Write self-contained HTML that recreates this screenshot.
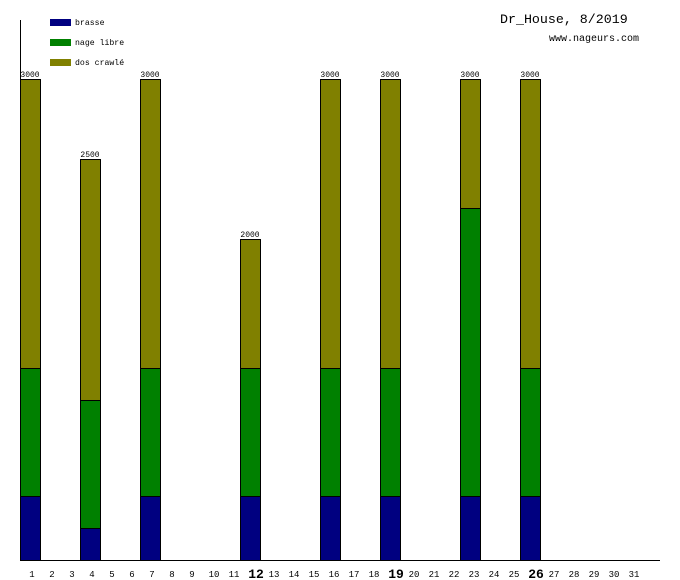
<!DOCTYPE html>
<html><head><style>body{margin:0;background:#fff}svg{display:block}</style></head><body>
<svg width="680" height="580" xmlns="http://www.w3.org/2000/svg" font-family="Liberation Mono, monospace">
<rect width="680" height="580" fill="#fff"/>
<line x1="20.5" y1="20" x2="20.5" y2="561" stroke="#000"/>
<line x1="20" y1="560.5" x2="660" y2="560.5" stroke="#000"/>
<rect x="50" y="19" width="21" height="7" fill="#000080"/>
<rect x="50" y="39" width="21" height="7" fill="#008000"/>
<rect x="50" y="59" width="21" height="7" fill="#808000"/>
<g font-size="8.2" fill="#000">
<text x="75" y="25">brasse</text>
<text x="75" y="45">nage libre</text>
<text x="75" y="65">dos crawlé</text>
</g>
<text x="500" y="23" font-size="13.3">Dr_House, 8/2019</text>
<text x="549" y="41" font-size="10">www.nageurs.com</text>
<g stroke="#000" stroke-width="1">
<rect x="20.5" y="496.5" width="20" height="64" fill="#000080"/><rect x="20.5" y="368.5" width="20" height="128" fill="#008000"/><rect x="20.5" y="79.5" width="20" height="289" fill="#808000"/>
<rect x="80.5" y="528.5" width="20" height="32" fill="#000080"/><rect x="80.5" y="400.5" width="20" height="128" fill="#008000"/><rect x="80.5" y="159.5" width="20" height="241" fill="#808000"/>
<rect x="140.5" y="496.5" width="20" height="64" fill="#000080"/><rect x="140.5" y="368.5" width="20" height="128" fill="#008000"/><rect x="140.5" y="79.5" width="20" height="289" fill="#808000"/>
<rect x="240.5" y="496.5" width="20" height="64" fill="#000080"/><rect x="240.5" y="368.5" width="20" height="128" fill="#008000"/><rect x="240.5" y="239.5" width="20" height="129" fill="#808000"/>
<rect x="320.5" y="496.5" width="20" height="64" fill="#000080"/><rect x="320.5" y="368.5" width="20" height="128" fill="#008000"/><rect x="320.5" y="79.5" width="20" height="289" fill="#808000"/>
<rect x="380.5" y="496.5" width="20" height="64" fill="#000080"/><rect x="380.5" y="368.5" width="20" height="128" fill="#008000"/><rect x="380.5" y="79.5" width="20" height="289" fill="#808000"/>
<rect x="460.5" y="496.5" width="20" height="64" fill="#000080"/><rect x="460.5" y="208.5" width="20" height="288" fill="#008000"/><rect x="460.5" y="79.5" width="20" height="129" fill="#808000"/>
<rect x="520.5" y="496.5" width="20" height="64" fill="#000080"/><rect x="520.5" y="368.5" width="20" height="128" fill="#008000"/><rect x="520.5" y="79.5" width="20" height="289" fill="#808000"/>
</g>
<g font-size="8" text-anchor="middle" fill="#000">
<text x="30" y="77">3000</text><text x="90" y="157">2500</text><text x="150" y="77">3000</text>
<text x="250" y="237">2000</text><text x="330" y="77">3000</text><text x="390" y="77">3000</text>
<text x="470" y="77">3000</text><text x="530" y="77">3000</text>
</g>
<g font-size="9" text-anchor="middle" fill="#000">
<text x="32" y="577">1</text><text x="52" y="577">2</text><text x="72" y="577">3</text><text x="92" y="577">4</text><text x="112" y="577">5</text><text x="132" y="577">6</text><text x="152" y="577">7</text><text x="172" y="577">8</text><text x="192" y="577">9</text><text x="214" y="577">10</text><text x="234" y="577">11</text>
<text x="256" y="578" font-size="13" font-weight="bold">12</text>
<text x="274" y="577">13</text><text x="294" y="577">14</text><text x="314" y="577">15</text><text x="334" y="577">16</text><text x="354" y="577">17</text><text x="374" y="577">18</text>
<text x="396" y="578" font-size="13" font-weight="bold">19</text>
<text x="414" y="577">20</text><text x="434" y="577">21</text><text x="454" y="577">22</text><text x="474" y="577">23</text><text x="494" y="577">24</text><text x="514" y="577">25</text>
<text x="536" y="578" font-size="13" font-weight="bold">26</text>
<text x="554" y="577">27</text><text x="574" y="577">28</text><text x="594" y="577">29</text><text x="614" y="577">30</text><text x="634" y="577">31</text>
</g>
</svg>
</body></html>
